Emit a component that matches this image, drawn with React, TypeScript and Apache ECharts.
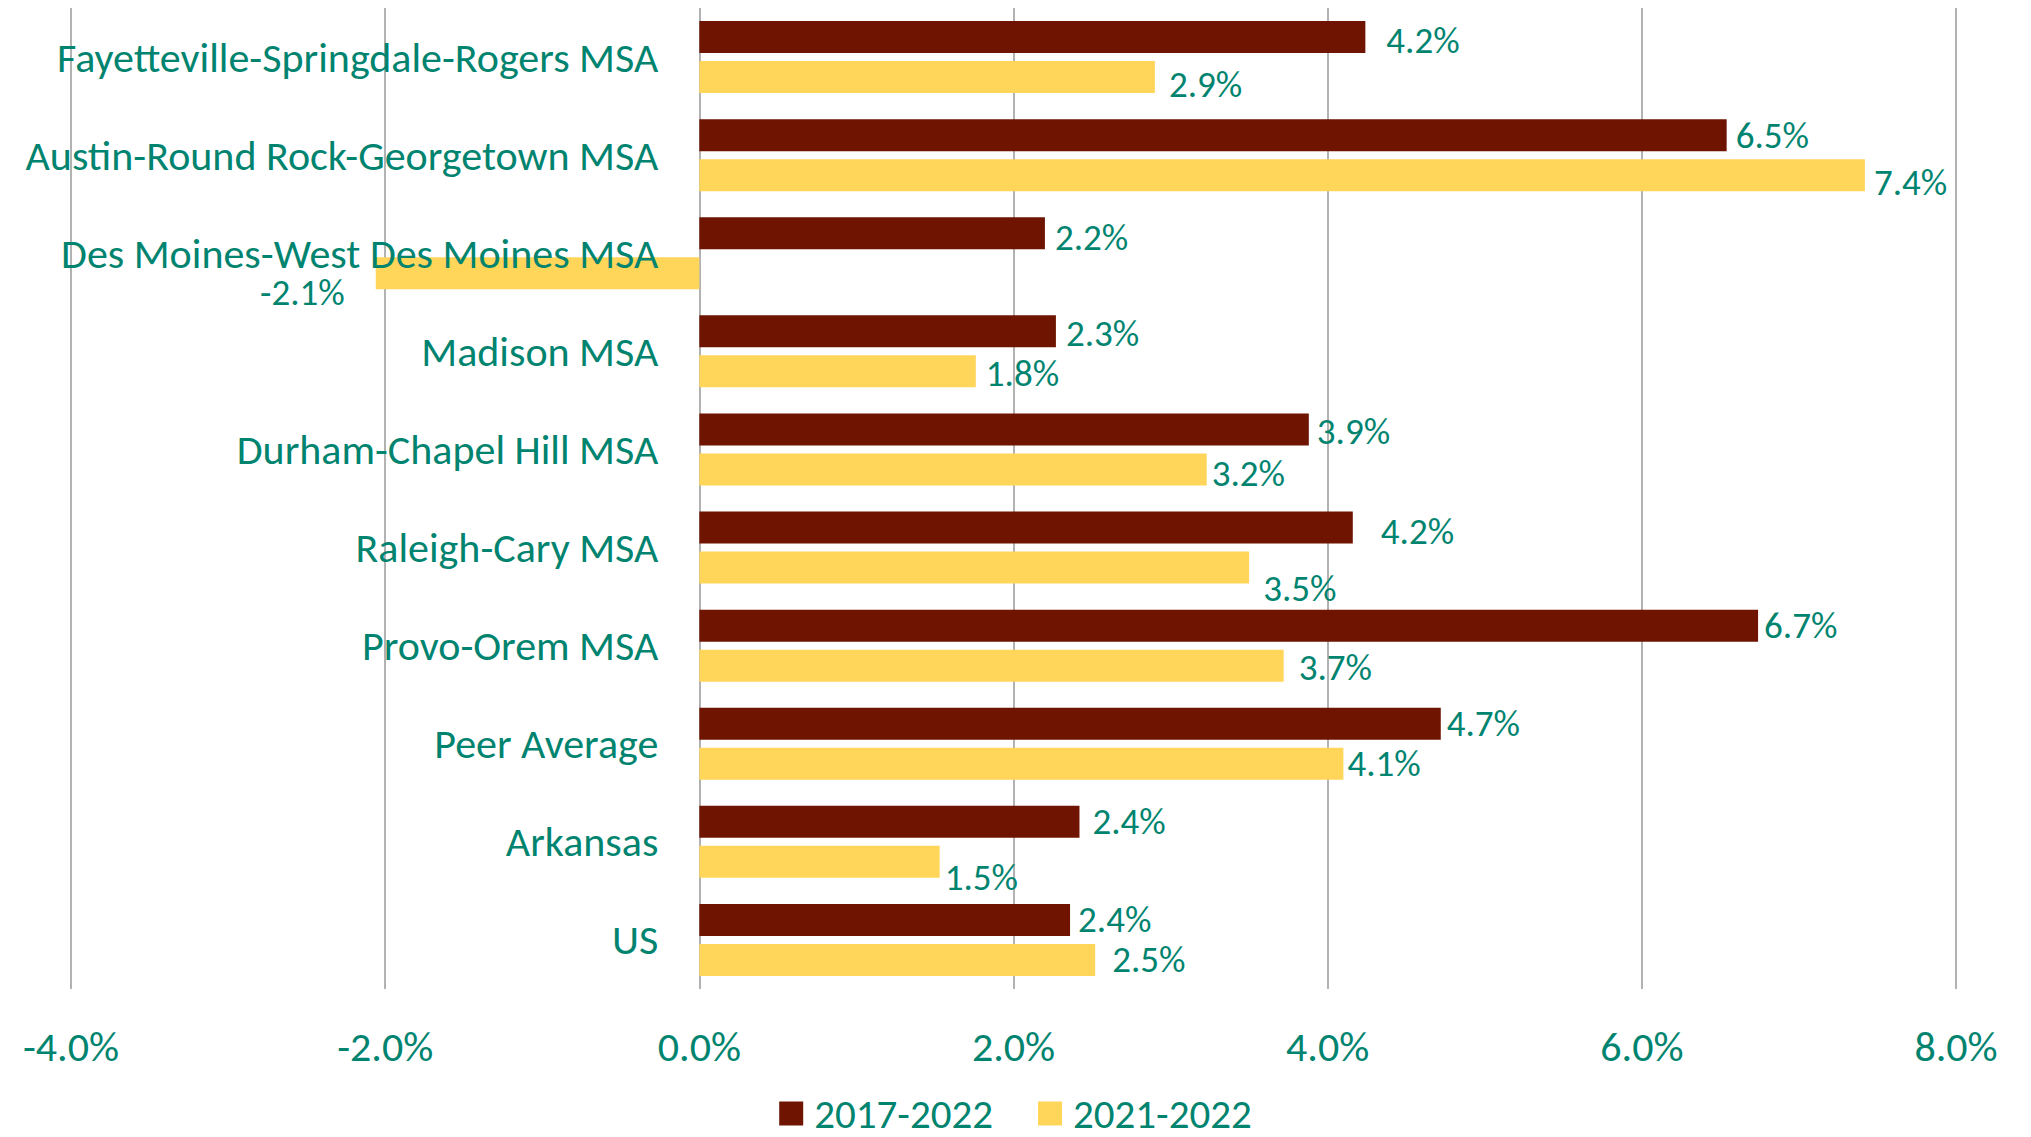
import React, { useEffect, useRef } from "react";
import * as echarts from "echarts";

const categories = [
  "Fayetteville-Springdale-Rogers MSA",
  "Austin-Round Rock-Georgetown MSA",
  "Des Moines-West Des Moines MSA",
  "Madison MSA",
  "Durham-Chapel Hill MSA",
  "Raleigh-Cary MSA",
  "Provo-Orem MSA",
  "Peer Average",
  "Arkansas",
  "US",
];

const growth2017to2022 = [4.24, 6.54, 2.2, 2.27, 3.88, 4.16, 6.74, 4.72, 2.42, 2.36];
const growth2021to2022 = [2.9, 7.42, -2.06, 1.76, 3.23, 3.5, 3.72, 4.1, 1.53, 2.52];

const seriesNames = ["2017-2022", "2021-2022"];
const xTicks = { min: -4, max: 8, interval: 2 };

// label nudges (pixels) reproducing manual label placement
const offsets2017: [number, number][] = [
  [21, 3], [9, 0], [10, 4], [10, 2], [8, 2], [28, 4], [6, 0], [6, 0], [13, 0], [8, 0],
];
const offsets2021: [number, number][] = [
  [14, 7], [9, 7], [-31, 19], [10, 2], [5, 4], [14, 21], [15, 2], [4, 0], [5, 16], [17, 0],
];

const TEAL = "#00846F";
const DARK = "#6E1400";
const YELLOW = "#FFD55A";
const GRID = "#999999";
const FONT = "Calibri, Carlito, Lato, sans-serif";

const GRID_LEFT = 71;
const GRID_RIGHT = 75;
const CHART_W = 2031;

function buildData(values: number[], offs: [number, number][]) {
  return values.map((v, i) => ({
    value: v,
    label: {
      position: v < 0 ? "left" : "right",
      offset: offs[i],
    },
  }));
}

export default function App() {
  const ref = useRef<HTMLDivElement>(null);
  useEffect(() => {
    if (!ref.current) return;
    const chart = echarts.init(ref.current, null, { renderer: "svg" });
    const labelCommon = {
      show: true,
      distance: 0,
      color: TEAL,
      fontSize: 37,
      fontFamily: FONT,
      formatter: (p: any) => Number(p.value).toFixed(1) + "%",
    };
    // pixel position of zero on the x axis, used to place the category axis there
    const plotW = CHART_W - GRID_LEFT - GRID_RIGHT;
    const zeroX = GRID_LEFT + (plotW * (0 - xTicks.min)) / (xTicks.max - xTicks.min);
    chart.setOption({
      animation: false,
      backgroundColor: "#ffffff",
      grid: {
        left: GRID_LEFT,
        right: GRID_RIGHT,
        top: 8,
        bottom: 148,
        containLabel: false,
        outerBoundsMode: "none",
      },
      legend: {
        data: seriesNames,
        left: "center",
        top: 1088,
        itemWidth: 24,
        itemHeight: 24,
        itemGap: 45,
        icon: "rect",
        textStyle: {
          color: TEAL,
          fontSize: 41,
          fontFamily: FONT,
          padding: [0, 0, 0, 6],
        },
      },
      xAxis: {
        type: "value",
        min: xTicks.min,
        max: xTicks.max,
        interval: xTicks.interval,
        axisLine: { show: false },
        axisTick: { show: false },
        splitLine: { show: true, lineStyle: { color: GRID, width: 1.5 } },
        axisLabel: {
          color: TEAL,
          fontSize: 42,
          fontFamily: FONT,
          margin: 36,
          formatter: (v: number) => v.toFixed(1) + "%",
        },
      },
      yAxis: {
        type: "category",
        inverse: true,
        data: categories,
        position: "left",
        offset: -(zeroX - GRID_LEFT),
        z: 5,
        axisLine: { show: false, onZero: false },
        axisTick: { show: false },
        axisLabel: {
          color: TEAL,
          fontSize: 42,
          fontFamily: FONT,
          margin: 41,
        },
      },
      series: [
        {
          name: seriesNames[0],
          type: "bar",
          data: buildData(growth2017to2022, offsets2017),
          barWidth: 32,
          barGap: "25%",
          itemStyle: { color: DARK },
          label: labelCommon,
        },
        {
          name: seriesNames[1],
          type: "bar",
          data: buildData(growth2021to2022, offsets2021),
          barWidth: 32,
          barGap: "25%",
          itemStyle: { color: YELLOW },
          label: labelCommon,
        },
      ],
    });
    return () => chart.dispose();
  }, []);
  return (
    <div
      ref={ref}
      style={{ position: "absolute", left: 0, top: 0, width: CHART_W, height: 1137 }}
    />
  );
}
